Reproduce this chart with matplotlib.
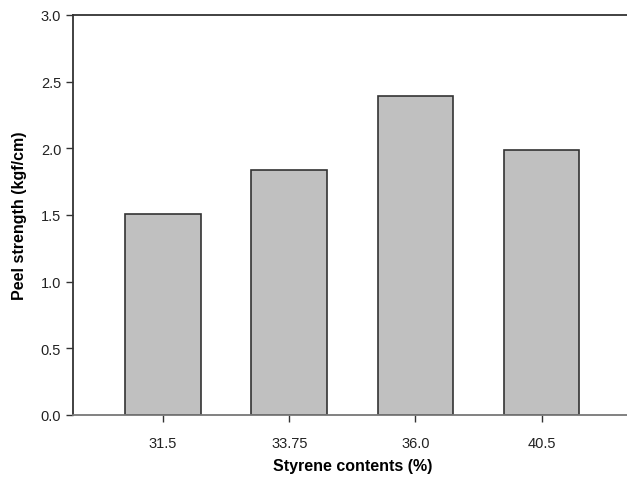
import matplotlib
matplotlib.use("Agg")
import matplotlib.pyplot as plt

# styrene content categories and measured peel strength
categories = ["31.5", "33.75", "36.0", "40.5"]
peel = [1.51, 1.84, 2.39, 1.99]

plt.rcParams['font.family'] = ['Liberation Sans', 'DejaVu Sans']

fig = plt.figure(figsize=(6.27, 4.89), dpi=100)
ax = fig.add_axes([0.1164, 0.1493, 0.891, 0.818])

x = range(len(categories))
ax.bar(x, peel, width=0.6, color='#c0c0c0', edgecolor='#333333', linewidth=1.2)

ax.set_xlim(-0.714, 3.714)
ax.set_ylim(0, 3.0)
ax.set_yticks([0.0, 0.5, 1.0, 1.5, 2.0, 2.5, 3.0])
ax.set_yticklabels(["0.0", "0.5", "1.0", "1.5", "2.0", "2.5", "3.0"])
ax.set_xticks(list(x))
ax.set_xticklabels(categories)

ax.spines['right'].set_visible(False)
for s in ['left', 'top']:
    ax.spines[s].set_color('#333333')
    ax.spines[s].set_linewidth(1.3)
ax.spines['bottom'].set_color('#777777')
ax.spines['bottom'].set_linewidth(1.3)

ax.tick_params(axis='both', direction='out', length=5, width=1, colors='#333333',
               labelsize=10.5, labelcolor='#222222')
ax.tick_params(axis='x', pad=10)

ax.set_xlabel("Styrene contents (%)", fontsize=11.5, fontweight='bold', labelpad=6)
ax.set_ylabel("Peel strength (kgf/cm)", fontsize=11.5, fontweight='bold', labelpad=10)

fig.savefig("out.png", dpi=100)
